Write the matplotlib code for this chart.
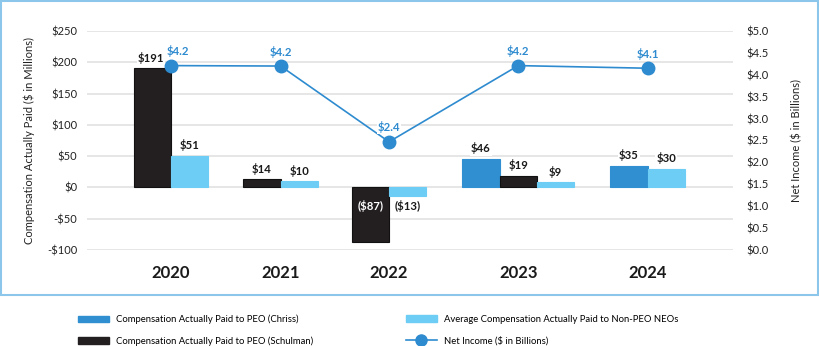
import numpy as np
import matplotlib
matplotlib.use("Agg")
import matplotlib.pyplot as plt
from matplotlib.patches import Patch, Rectangle
from matplotlib.lines import Line2D

plt.rcParams['font.family'] = ['Lato', 'DejaVu Sans']

years = ["2020", "2021", "2022", "2023", "2024"]
cap_chriss = [None, None, None, 46, 35]
cap_schulman = [191, 14, -87, 19, None]
cap_non_peo = [51, 10, -13, 9, 30]
net_income = [4.21, 4.20, 2.47, 4.21, 4.15]
net_income_labels = ["$4.2", "$4.2", "$2.4", "$4.2", "$4.1"]

# layout
group_x = [0, 1, 1.99, 3.17, 4.35]
net_label_dx = [5, 0, 0, 0, 0]
bw = 0.342
C_CHRISS = "#2F8FD0"
C_SCHUL = "#231F20"
C_NONPEO = "#6DCDF5"
C_LINE = "#2E8BCF"
C_TEXT = "#1A1A1A"

W, H = 820, 346
fig = plt.figure(figsize=(W / 100, H / 100), dpi=100)
ax = fig.add_axes([87 / W, 1 - 250 / H, (733 - 87) / W, (250 - 31) / H])
ax2 = ax.twinx()

def fmt_money(v):
    return f"(${abs(v)})" if v < 0 else f"${v}"

series = [(cap_chriss, C_CHRISS), (cap_schulman, C_SCHUL), (cap_non_peo, C_NONPEO)]
for i, gx in enumerate(group_x):
    present = [(s[i], c) for s, c in series if s[i] is not None]
    n = len(present)
    for j, (v, c) in enumerate(present):
        x = gx + (j - (n - 1) / 2) * bw
        ec = "#111111" if c == C_SCHUL else c
        ax.bar(x, v, width=bw, color=c, edgecolor=ec, linewidth=0.8, zorder=3)
        if v >= 0:
            ax.annotate(fmt_money(v), (x, v), xytext=(-1 if i == 0 and c == C_SCHUL else 0, 3),
                        textcoords="offset points", ha="center", va="bottom", fontsize=8.2,
                        fontweight="bold", color=C_TEXT, zorder=5,
                        bbox=dict(boxstyle="square,pad=0.1", fc="white", ec="none"))
        else:
            tc = "white" if c == C_SCHUL else C_TEXT
            ax.text(x, -29, fmt_money(v), ha="center", va="center", fontsize=8.2,
                    fontweight="bold", color=tc, zorder=5)

ax.set_ylim(-100, 250)
ax.set_xlim(-0.767, 5.13)
ax.set_yticks(np.arange(-100, 251, 50))
ax.set_yticklabels([f"-${abs(v)}" if v < 0 else f"${v}" for v in range(-100, 251, 50)])
ax.set_xticks(group_x)
ax.set_xticklabels(years, fontsize=12, fontweight="bold", color=C_TEXT)
ax.tick_params(axis="x", length=0, pad=11)
ax.tick_params(axis="y", length=0, pad=7, labelsize=8, colors="#222222")
ax.grid(axis="y", color="#E4E4E4", linewidth=1.3, zorder=0)
ax.set_axisbelow(True)
ax.set_ylabel("Compensation Actually Paid ($ in Millions)", fontsize=8, color="#222222", labelpad=9)
for sp in ax.spines.values():
    sp.set_visible(False)

ax2.plot(group_x, net_income, color=C_LINE, lw=1.2, marker="o", markersize=9, zorder=4)
for gx, v, lab, dx in zip(group_x, net_income, net_income_labels, net_label_dx):
    ax2.annotate(lab, (gx, v), xytext=(dx, 6), textcoords="offset points", ha="center",
                 va="bottom", fontsize=8.2, fontweight="bold", color=C_LINE, zorder=6,
                 bbox=dict(boxstyle="square,pad=0.05", fc="white", ec="none"))
ax2.set_ylim(0, 5)
ax2.set_yticks(np.arange(0, 5.01, 0.5))
ax2.set_yticklabels([f"${v:.1f}" for v in np.arange(0, 5.01, 0.5)])
ax2.tick_params(axis="y", length=0, pad=10, labelsize=8, colors="#222222")
ax2.set_ylabel("Net Income ($ in Billions)", fontsize=8, color="#222222", labelpad=16)
for sp in ax2.spines.values():
    sp.set_visible(False)

fig.patches.append(Rectangle((1 / W, 1 - 295 / H), 817 / W, 294 / H, transform=fig.transFigure,
                             fill=False, edgecolor="#8CC6EA", linewidth=1.5))

lfont = dict(family=["Liberation Sans Narrow", "Lato"], size=6.8)
h1 = [Patch(color=C_CHRISS), Patch(color=C_SCHUL)]
l1 = ["Compensation Actually Paid to PEO (Chriss)", "Compensation Actually Paid to PEO (Schulman)"]
h2 = [Patch(color=C_NONPEO),
      Line2D([], [], color=C_LINE, lw=1.2, marker="o", markersize=8)]
l2 = ["Average Compensation Actually Paid to Non-PEO NEOs", "Net Income ($ in Billions)"]
for hs, ls, x0 in [(h1, l1, 73 / W), (h2, l2, 401 / W)]:
    fig.legend(hs, ls, loc="upper left", bbox_to_anchor=(x0, 1 - 310 / H), frameon=False,
               prop=lfont, handlelength=3.3, handleheight=0.7, handletextpad=0.8,
               labelspacing=1.3, borderpad=0)

fig.savefig("out.png", dpi=100)
